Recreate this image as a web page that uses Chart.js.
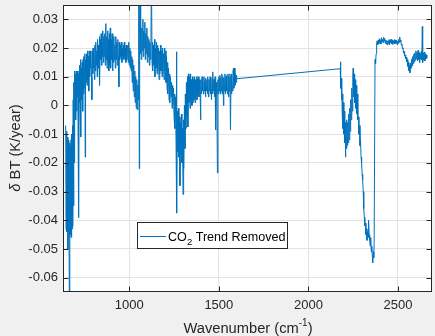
<!DOCTYPE html>
<html>
<head>
<meta charset="utf-8">
<script src="https://cdn.jsdelivr.net/npm/chart.js@4.4.1/dist/chart.umd.min.js"></script>
<style>
  html, body { margin: 0; padding: 0; background: #f0f0f0; }
  canvas { display: block; }
</style>
</head>
<body>
<canvas id="trend-chart" width="435" height="336"></canvas>
<script>
// Spectrum: wavenumber (cm-1) and dBT trend (K/year)
const wavenumber = [
  645, 647, 650, 652, 655, 657, 659, 661, 663, 665,
  667, 669, 671, 673, 675, 677, 679, 681, 683, 685,
  687, 689, 691, 693, 695, 697, 700, 702, 704, 706,
  708, 710, 712, 714, 716, 718, 720, 722, 724, 726,
  728, 730, 732, 735, 737, 740, 742, 745, 747, 750,
  752, 754, 756, 759, 761, 764, 766, 769, 771, 774,
  776, 779, 781, 784, 786, 789, 791, 793, 796, 798,
  801, 803, 806, 808, 811, 813, 816, 818, 821, 823,
  826, 828, 831, 833, 835, 838, 841, 843, 846, 848,
  851, 853, 856, 858, 861, 863, 866, 869, 871, 874,
  876, 879, 881, 884, 886, 889, 891, 894, 896, 899,
  902, 904, 907, 909, 912, 914, 917, 920, 922, 925,
  928, 930, 933, 936, 939, 942, 944, 947, 950, 953,
  956, 959, 961, 964, 967, 970, 972, 975, 978, 981,
  983, 986, 989, 992, 994, 997, 1000, 1003, 1006, 1008,
  1011, 1014, 1016, 1019, 1022, 1025, 1028, 1031, 1033, 1036,
  1039, 1042, 1045, 1048, 1051, 1053, 1056, 1058, 1060, 1062,
  1065, 1067, 1070, 1073, 1076, 1078, 1081, 1084, 1087, 1089,
  1092, 1095, 1098, 1101, 1104, 1107, 1110, 1112, 1115, 1118,
  1121, 1124, 1127, 1129, 1132, 1135, 1138, 1141, 1143, 1146,
  1149, 1152, 1155, 1157, 1160, 1163, 1166, 1169, 1171, 1174,
  1177, 1180, 1183, 1185, 1188, 1191, 1194, 1197, 1199, 1202,
  1205, 1208, 1211, 1213, 1216, 1219, 1222, 1225, 1227, 1230,
  1233, 1236, 1239, 1241, 1244, 1247, 1250, 1253, 1255, 1258,
  1261, 1263, 1266, 1268, 1271, 1274, 1277, 1280, 1283, 1285,
  1288, 1291, 1294, 1297, 1300, 1302, 1305, 1308, 1311, 1313,
  1316, 1319, 1322, 1325, 1327, 1330, 1333, 1336, 1339, 1341,
  1344, 1347, 1350, 1353, 1355, 1358, 1361, 1364, 1367, 1369,
  1372, 1375, 1378, 1381, 1383, 1386, 1389, 1392, 1395, 1398,
  1400, 1403, 1406, 1409, 1411, 1414, 1417, 1420, 1423, 1425,
  1428, 1431, 1434, 1437, 1439, 1442, 1445, 1448, 1451, 1453,
  1456, 1459, 1462, 1465, 1467, 1470, 1473, 1476, 1479, 1481,
  1483, 1486, 1489, 1492, 1495, 1497, 1500, 1503, 1506, 1509,
  1511, 1514, 1517, 1520, 1523, 1526, 1528, 1531, 1534, 1537,
  1540, 1542, 1545, 1548, 1551, 1554, 1556, 1559, 1562, 1565,
  1568, 1570, 1573, 1576, 1579, 1582, 1584, 1587, 1590, 1593,
  1596, 1598, 1600, 2178, 2179, 2181, 2183, 2185, 2187, 2189,
  2191, 2193, 2195, 2198, 2200, 2203, 2205, 2207, 2209, 2212,
  2214, 2217, 2219, 2222, 2225, 2228, 2231, 2233, 2236, 2239,
  2242, 2245, 2248, 2250, 2252, 2255, 2258, 2261, 2264, 2267,
  2270, 2273, 2276, 2279, 2282, 2285, 2288, 2291, 2294, 2297,
  2300, 2303, 2306, 2309, 2312, 2315, 2318, 2321, 2324, 2327,
  2330, 2333, 2336, 2339, 2342, 2345, 2348, 2351, 2354, 2357,
  2359, 2362, 2365, 2367, 2372, 2375, 2378, 2381, 2384, 2387,
  2390, 2393, 2396, 2399, 2402, 2405, 2408, 2411, 2414, 2417,
  2420, 2423, 2426, 2429, 2432, 2435, 2438, 2441, 2444, 2447,
  2450, 2453, 2456, 2459, 2462, 2465, 2468, 2471, 2474, 2477,
  2480, 2483, 2486, 2489, 2492, 2495, 2498, 2501, 2504, 2507,
  2510, 2513, 2516, 2519, 2522, 2525, 2528, 2531, 2534, 2537,
  2540, 2543, 2546, 2549, 2552, 2555, 2558, 2561, 2564, 2567,
  2570, 2573, 2576, 2579, 2582, 2585, 2588, 2591, 2594, 2597,
  2600, 2603, 2606, 2609, 2612, 2615, 2618, 2621, 2624, 2627,
  2630, 2633, 2636, 2638, 2641, 2644, 2647, 2650, 2653, 2656,
  2659, 2661
];

const deltaBT = [
  -0.007, -0.043, -0.009, -0.044, -0.011, -0.050, -0.012, -0.044, -0.014, -0.065,
  -0.013, -0.046, -0.014, -0.045, -0.012, -0.046, -0.010, -0.043, -0.007, -0.042,
  0.002, -0.035, 0.008, -0.020, 0.012, 0.000, 0.011, -0.005, 0.012, -0.002,
  0.011, 0.003, 0.012, -0.006, 0.011, -0.039, 0.012, 0.001, 0.014, -0.003,
  0.016, -0.011, 0.013, 0.002, 0.015, -0.002, 0.016, 0.004, 0.017, 0.006,
  0.018, -0.018, 0.016, 0.008, 0.018, 0.007, 0.019, 0.009, 0.017, 0.005,
  0.019, 0.010, 0.019, 0.013, 0.018, 0.010, 0.002, 0.019, 0.011, 0.020,
  0.013, 0.018, 0.009, 0.021, 0.012, 0.022, 0.014, 0.019, 0.010, 0.023,
  0.013, 0.021, 0.015, 0.024, 0.007, 0.023, 0.016, 0.025, 0.014, 0.022,
  0.017, 0.026, 0.015, 0.024, 0.017, 0.025, 0.014, 0.0285, 0.016, 0.024,
  0.013, 0.026, 0.015, 0.023, 0.012, 0.025, 0.014, 0.027, 0.013, 0.023,
  0.016, 0.025, 0.012, 0.022, 0.015, 0.024, 0.016, 0.021, 0.013, 0.024,
  0.016, 0.022, 0.014, 0.023, 0.017, 0.0065, 0.022, 0.016, 0.021, 0.017,
  0.022, 0.015, 0.020, 0.017, 0.021, 0.016, 0.022, 0.017, 0.020, 0.015,
  0.021, 0.016, 0.019, 0.021, 0.015, 0.022, 0.014, 0.020, 0.013, 0.019,
  0.012, 0.017, 0.008, 0.016, 0.005, 0.014, 0.003, 0.012, 0.001, 0.010,
  -0.001, 0.009, -0.0015, 0.007, 0.002, 0.045, -0.022, 0.028, 0.045, 0.018,
  0.029, 0.016, 0.027, 0.019, 0.030, 0.017, 0.026, 0.020, 0.029, 0.016,
  0.025, 0.018, 0.027, 0.015, 0.024, 0.017, 0.023, 0.014, 0.022, 0.016,
  0.024, 0.045, 0.015, 0.022, 0.012, 0.021, 0.014, 0.023, 0.010, 0.020,
  0.013, 0.022, 0.011, 0.021, 0.012, 0.020, 0.009, 0.019, 0.011, 0.021,
  0.012, 0.019, 0.010, 0.020, 0.011, 0.018, 0.009, 0.020, 0.012, 0.019,
  0.008, 0.017, 0.006, 0.015, 0.004, 0.013, 0.002, 0.011, 0.001, 0.010,
  0.003, 0.008, -0.001, 0.007, 0.000, 0.006, -0.004, 0.004, -0.008, 0.003,
  -0.012, 0.0187, -0.0375, -0.002, -0.016, -0.001, -0.018, -0.004, -0.028, -0.006,
  -0.017, -0.003, -0.020, -0.008, -0.031, -0.005, -0.022, 0.000, -0.015, 0.004,
  -0.008, 0.008, -0.004, 0.010, -0.0075, 0.011, 0.001, 0.010, -0.001, 0.011,
  0.002, 0.009, 0.000, 0.010, 0.001, 0.009, 0.002, 0.010, 0.001, 0.009,
  0.003, 0.010, 0.002, 0.009, 0.004, 0.010, 0.003, 0.009, 0.005, -0.005,
  0.009, 0.004, 0.010, 0.005, 0.009, 0.004, 0.010, 0.005, 0.0085, 0.003,
  0.0095, 0.005, 0.009, 0.004, 0.010, 0.003, 0.009, 0.005, 0.010, 0.004,
  0.009, 0.002, 0.0095, 0.004, 0.0117, 0.005, 0.009, 0.003, 0.010, 0.004,
  -0.0085, 0.008, 0.004, -0.0235, 0.009, 0.004, 0.010, 0.005, 0.0105, 0.004,
  0.0095, 0.005, 0.011, 0.004, 0.010, 0.000, 0.0095, 0.005, 0.011, 0.004,
  0.010, 0.005, 0.0105, 0.004, 0.011, 0.003, 0.010, 0.005, 0.011, -0.0085,
  0.010, 0.004, 0.011, 0.005, 0.012, 0.013, 0.006, 0.013, 0.007, 0.011,
  0.008, 0.0105, 0.0093, 0.0128, 0.0152, 0.006, 0.0095, 0.002, 0.007, -0.003,
  0.004, -0.008, 0.001, -0.010, -0.002, -0.013, -0.006, -0.018, -0.009, -0.015,
  -0.005, -0.014, -0.006, -0.013, -0.003, -0.012, -0.001, -0.009, 0.002, -0.005,
  0.006, -0.002, 0.010, 0.013, 0.003, 0.011, 0.001, 0.009, -0.001, 0.007,
  -0.003, 0.004, -0.005, -0.004, -0.010, -0.007, -0.014, -0.012, -0.018, -0.020,
  -0.024, -0.026, -0.030, -0.036, -0.039, -0.042, -0.041, -0.045, -0.043, -0.047,
  -0.044, -0.046, -0.040, -0.045, -0.047, -0.049, -0.046, -0.051, -0.049, -0.053,
  -0.0548, -0.051, -0.053, -0.048, 0.016, 0.0145, 0.018, 0.0218, 0.0225, 0.0212,
  0.0228, 0.0215, 0.0232, 0.0218, 0.0227, 0.0214, 0.0236, 0.0222, 0.0230, 0.0219,
  0.0237, 0.0225, 0.0233, 0.0217, 0.0228, 0.0214, 0.0226, 0.0211, 0.0224, 0.0216,
  0.0229, 0.0212, 0.0226, 0.0219, 0.0231, 0.0215, 0.0227, 0.0213, 0.0225, 0.0218,
  0.0229, 0.0214, 0.0226, 0.0217, 0.0228, 0.0212, 0.0224, 0.0216, 0.0230, 0.0220,
  0.0238, 0.0222, 0.0228, 0.0210, 0.0214, 0.0198, 0.0201, 0.0183, 0.0188, 0.0172,
  0.0176, 0.0162, 0.0168, 0.0152, 0.0160, 0.0136, 0.0150, 0.0121, 0.0140, 0.0114,
  0.0148, 0.0130, 0.0162, 0.0138, 0.0170, 0.0146, 0.0178, 0.0152, 0.0183, 0.0158,
  0.0190, 0.0164, 0.0186, 0.0155, 0.0192, 0.0160, 0.0184, 0.0150, 0.0180, 0.0162,
  0.0188, 0.0158, 0.0275, 0.0150, 0.0182, 0.0160, 0.0186, 0.0155, 0.0178, 0.0162,
  0.0176, 0.0166
];

const xTickValues = [1000, 1500, 2000, 2500];
const xTickLabels = ['1000', '1500', '2000', '2500'];
const yTickValues = [-0.06, -0.05, -0.04, -0.03, -0.02, -0.01, 0, 0.01, 0.02, 0.03];
const yTickLabels = ['-0.06', '-0.05', '-0.04', '-0.03', '-0.02', '-0.01', '0', '0.01', '0.02', '0.03'];
const seriesLabel = 'CO2 Trend Removed';

const FONT = "'Liberation Sans', Helvetica, Arial, sans-serif";
const AXIS_COLOR = '#262626';
const LINE_COLOR = '#0072bd';

const points = wavenumber.map((w, i) => ({ x: w, y: deltaBT[i] }));

// White plot box, inward ticks on all four sides, legend and axis titles
const framePlugin = {
  id: 'frame',
  beforeDraw(chart) {
    const { ctx, chartArea: a } = chart;
    ctx.save();
    ctx.fillStyle = '#ffffff';
    ctx.fillRect(a.left, a.top, a.right - a.left, a.bottom - a.top);
    ctx.restore();
  },
  afterDraw(chart) {
    const { ctx, chartArea: a, scales } = chart;
    const L = a.left + 0.5, R = a.right - 0.5, T = a.top + 0.5, B = a.bottom - 0.5;
    ctx.save();
    ctx.strokeStyle = AXIS_COLOR;
    ctx.lineWidth = 1;
    ctx.strokeRect(L, T, R - L, B - T);

    ctx.beginPath();
    xTickValues.forEach(v => {
      const px = Math.round(scales.x.getPixelForValue(v)) + 0.5;
      ctx.moveTo(px, B); ctx.lineTo(px, B - 5);
      ctx.moveTo(px, T); ctx.lineTo(px, T + 5);
    });
    yTickValues.forEach(v => {
      const py = Math.round(scales.y.getPixelForValue(v)) + 0.5;
      ctx.moveTo(L, py); ctx.lineTo(L + 5, py);
      ctx.moveTo(R, py); ctx.lineTo(R - 5, py);
    });
    ctx.stroke();

    // legend
    const lx = 137.5, ly = 222.5, lw = 150, lh = 26;
    ctx.fillStyle = '#ffffff';
    ctx.fillRect(lx, ly, lw, lh);
    ctx.strokeStyle = AXIS_COLOR;
    ctx.strokeRect(lx, ly, lw, lh);
    ctx.strokeStyle = LINE_COLOR;
    ctx.beginPath();
    ctx.moveTo(140, 236.5); ctx.lineTo(166, 236.5);
    ctx.stroke();
    ctx.fillStyle = '#000000';
    ctx.textBaseline = 'alphabetic';
    ctx.textAlign = 'left';
    let tx = 168;
    ctx.font = '12.6px ' + FONT;
    ctx.fillText('CO', tx, 241);
    tx += ctx.measureText('CO').width;
    ctx.font = '9.5px ' + FONT;
    ctx.fillText('2', tx, 245);
    tx += ctx.measureText('2').width;
    ctx.font = '12.6px ' + FONT;
    ctx.fillText(' Trend Removed', tx, 241);

    // x title with superscript
    ctx.fillStyle = AXIS_COLOR;
    const big = '14.7px ' + FONT, small = '10px ' + FONT;
    ctx.font = big;
    const w1 = ctx.measureText('Wavenumber (cm').width;
    const w3 = ctx.measureText(')').width;
    ctx.font = small;
    const w2 = ctx.measureText('-1').width;
    let sx = 248 - (w1 + w2 + w3) / 2;
    ctx.font = big;
    ctx.fillText('Wavenumber (cm', sx, 333);
    ctx.font = small;
    ctx.fillText('-1', sx + w1, 326);
    ctx.font = big;
    ctx.fillText(')', sx + w1 + w2, 333);

    // y title with italic delta
    ctx.translate(20, 148);
    ctx.rotate(-Math.PI / 2);
    ctx.font = 'italic ' + big;
    const d1 = ctx.measureText('\u03b4').width;
    ctx.font = big;
    const d2 = ctx.measureText(' BT (K/year)').width;
    let yx = -(d1 + d2) / 2;
    ctx.font = 'italic ' + big;
    ctx.fillText('\u03b4', yx, 0);
    ctx.font = big;
    ctx.fillText(' BT (K/year)', yx + d1, 0);
    ctx.restore();
  }
};

new Chart(document.getElementById('trend-chart'), {
  type: 'scatter',
  data: {
    datasets: [{
      label: seriesLabel,
      data: points,
      showLine: true,
      borderColor: LINE_COLOR,
      borderWidth: 1,
      pointRadius: 0,
      tension: 0,
    }],
  },
  options: {
    responsive: false,
    animation: false,
    layout: { padding: { top: 5, right: 3, left: 0, bottom: 0 } },
    plugins: { legend: { display: false }, tooltip: { enabled: false } },
    scales: {
      x: {
        type: 'linear',
        min: 630,
        max: 2690,
        afterBuildTicks: s => { s.ticks = xTickValues.map(v => ({ value: v })); },
        afterFit: s => { s.height = 44; s.paddingLeft = 0; s.paddingRight = 0; },
        grid: { color: '#e3e3e3', drawTicks: false },
        border: { display: false },
        ticks: {
          padding: 6,
          color: AXIS_COLOR,
          font: { family: FONT, size: 13 },
          autoSkip: false,
          maxRotation: 0,
          callback: (v, i) => xTickLabels[i],
        },
      },
      y: {
        type: 'linear',
        min: -0.065,
        max: 0.035,
        afterBuildTicks: s => { s.ticks = yTickValues.map(v => ({ value: v })); },
        afterFit: s => { s.width = 63; s.paddingTop = 0; s.paddingBottom = 0; },
        grid: { color: '#e3e3e3', drawTicks: false },
        border: { display: false },
        ticks: {
          padding: 5,
          color: AXIS_COLOR,
          font: { family: FONT, size: 13 },
          autoSkip: false,
          callback: (v, i) => yTickLabels[i],
        },
      },
    },
  },
  plugins: [framePlugin],
});
</script>
</body>
</html>
